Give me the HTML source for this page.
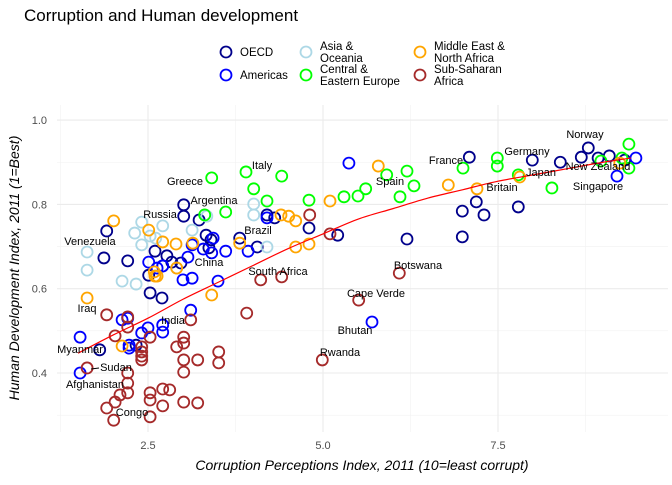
<!DOCTYPE html>
<html><head><meta charset="utf-8"><style>
body{margin:0;background:#fff;font-family:"Liberation Sans",sans-serif;}
svg text{font-family:"Liberation Sans",sans-serif;}
</style></head><body>
<svg id="chart" width="672" height="480" xmlns="http://www.w3.org/2000/svg">
<text x="24" y="21" font-size="17" fill="#000">Corruption and Human development</text>
<g id="legend"></g>
<g id="grid"></g>
<g id="points"></g>
<g id="labels"></g>
<text x="362" y="470" font-size="14" font-style="italic" text-anchor="middle">Corruption Perceptions Index, 2011 (10=least corrupt)</text>
<text transform="translate(19,268) rotate(-90)" font-size="14" font-style="italic" text-anchor="middle">Human Development Index, 2011 (1=Best)</text>
</svg>
<script>
const regions=["OECD","Americas","Asia & Oceania","Central & Eastern Europe","Middle East & North Africa","Sub-Saharan Africa"];
const regionColors=["#00008B","#0000FF","#ADD8E6","#00FF00","#FFA500","#A52A2A"];
const oecdX=[1.91,3.01,3.01,3.23,3.33,3.4,3.37,3.81,4.06,4.31,4.2,4.8,5.21,6.2,6.99,6.99,7.19,7.3,7.09,7.79,7.99,8.39,8.69,8.79,8.93,9.09,9.31,1.87,2.21,2.51,2.53,2.7,2.71,2.84,2.6,2.77,2.33,1.81,2.97];
const oecdY=[.737,.799,.772,.763,.727,.716,.697,.72,.699,.768,.775,.744,.727,.718,.723,.784,.806,.775,.912,.794,.905,.9,.912,.934,.91,.915,.905,.673,.666,.632,.59,.578,.654,.663,.689,.678,.466,.455,.661];
const amerX=[1.53,1.53,2.13,2.21,2.23,2.23,2.41,2.5,2.71,2.71,3.11,2.51,2.63,2.71,3.0,3.13,3.5,3.13,3.29,3.41,3.61,3.93,4.2,5.37,5.7,9.2,9.47,3.43,3.07];
const amerY=[.4,.485,.526,.53,.466,.459,.495,.507,.514,.497,.549,.663,.649,.654,.621,.625,.618,.704,.694,.685,.689,.689,.768,.898,.521,.867,.91,.72,.675];
const asiaX=[1.63,1.63,2.13,2.33,2.41,2.71,2.31,2.41,3.13,4.01,4.01,4.2,3.34,2.61,2.91,2.53];
const asiaY=[.687,.644,.618,.611,.758,.749,.732,.704,.739,.801,.775,.699,.772,.72,.649,.725];
const ceeX=[3.41,3.9,4.41,4.01,4.2,4.8,3.61,3.31,5.3,5.5,5.61,5.91,6.1,6.3,6.2,7.0,7.49,7.49,7.79,8.27,8.97,9.27,9.37,9.37];
const ceeY=[.863,.877,.867,.837,.808,.81,.782,.775,.818,.82,.837,.87,.818,.844,.879,.886,.91,.891,.87,.839,.903,.91,.886,.943];
const menaX=[1.63,2.01,2.51,2.59,2.9,2.6,3.14,2.91,2.63,3.41,2.13,3.81,4.51,4.61,4.8,4.61,5.1,4.4,5.79,6.79,7.2,7.81,2.71,9.24];
const menaY=[.578,.761,.739,.64,.706,.63,.708,.649,.63,.585,.464,.708,.772,.699,.706,.761,.808,.775,.891,.846,.837,.865,.711,.898];
const ssaX=[1.91,2.21,2.21,2.03,2.53,2.41,2.41,2.41,2.41,3.01,3.01,2.91,3.21,3.01,3.01,3.51,3.51,3.11,3.91,2.21,2.21,2.21,2.1,2.03,1.91,2.01,2.53,2.53,2.71,2.81,2.71,3.01,3.21,2.53,1.63,4.11,4.41,5.1,4.81,5.51,6.09,4.99];
const ssaY=[.538,.533,.509,.488,.485,.462,.45,.44,.431,.485,.471,.462,.431,.431,.402,.45,.424,.526,.542,.4,.376,.353,.348,.331,.317,.288,.353,.336,.362,.36,.322,.331,.329,.296,.412,.621,.628,.73,.775,.573,.637,.431];
const trendX=[1.5,2,2.5,3,3.5,4,4.5,5,5.5,6,6.5,7,7.5,8,8.5,9,9.4];
const trendY=[.447,.49,.53,.575,.615,.655,.695,.73,.765,.79,.815,.835,.855,.87,.885,.9,.91];
const xTicks=[2.5,5.0,7.5];
const xTickLabels=["2.5","5.0","7.5"];
const yTicks=[0.4,0.6,0.8,1.0];
const yTickLabels=["0.4","0.6","0.8","1.0"];
const labelNames=["Norway","Germany","France","Japan","New Zealand","Singapore","Britain","Spain","Italy","Greece","Argentina","Russia","Brazil","Venezuela","China","South Africa","Botswana","Cape Verde","Iraq","India","Bhutan","Rwanda","Myanmar","Sudan","Afghanistan","Congo"];
const labelPos=[[585,138],[527,155],[446,164],[541,176],[598,170],[598,190],[502,191],[390,185],[262,169],[185,185],[214,204],[160,218],[258,234],[90,245],[209,266],[278,275],[418,269],[376,297],[87,312],[173,324],[355,334],[340,356],[80,353],[116,371],[95,388],[132,416]];

const NS="http://www.w3.org/2000/svg";
const L=57,R=668,T=105,B=432;
const xs=v=>148+(v-2.5)*70;
const ys=v=>373-(v-0.4)*421.5;
function mk(tag,attrs,parent){const e=document.createElementNS(NS,tag);for(const k in attrs)e.setAttribute(k,attrs[k]);parent.appendChild(e);return e;}
const grid=document.getElementById('grid');
[0.3,0.5,0.7,0.9].forEach(v=>{const l=mk('line',{x1:L,x2:R,y1:ys(v),y2:ys(v),stroke:'#f2f2f2','stroke-width':0.6},grid);

});
[1.25,3.75,6.25,8.75].forEach(v=>{const l=mk('line',{x1:xs(v),x2:xs(v),y1:T,y2:B,stroke:'#f2f2f2','stroke-width':0.6},grid);

});
yTicks.forEach((v,i)=>{const l=mk('line',{x1:L,x2:R,y1:ys(v),y2:ys(v),stroke:'#ebebeb','stroke-width':1.1},grid);


const t=mk('text',{x:47,y:ys(v)+4,'font-size':11,fill:'#4d4d4d','text-anchor':'end'},grid);t.textContent=yTickLabels[i];

});
xTicks.forEach((v,i)=>{const l=mk('line',{x1:xs(v),x2:xs(v),y1:T,y2:B,stroke:'#ebebeb','stroke-width':1.1},grid);


const t=mk('text',{x:xs(v),y:449,'font-size':11,fill:'#4d4d4d','text-anchor':'middle'},grid);t.textContent=xTickLabels[i];

});
const pts=document.getElementById('points');
const series=[[oecdX,oecdY],[amerX,amerY],[asiaX,asiaY],[ceeX,ceeY],[menaX,menaY],[ssaX,ssaY]];
series.forEach((s,si)=>{s[0].forEach((x,i)=>{const c=mk('circle',{cx:xs(x),cy:ys(s[1][i]),r:5.5,fill:'none',stroke:regionColors[si],'stroke-width':1.8},pts);

});});
const P=trendX.map((x,i)=>[xs(x),ys(trendY[i])]);
let d='M'+P[0][0]+','+P[0][1];
for(let i=0;i<P.length-1;i++){const p0=P[Math.max(0,i-1)],p1=P[i],p2=P[i+1],p3=P[Math.min(P.length-1,i+2)];
d+=' C'+(p1[0]+(p2[0]-p0[0])/6)+','+(p1[1]+(p2[1]-p0[1])/6)+' '+(p2[0]-(p3[0]-p1[0])/6)+','+(p2[1]-(p3[1]-p1[1])/6)+' '+p2[0]+','+p2[1];}
const tl=mk('path',{d:d,fill:'none',stroke:'#FF0000','stroke-width':1.2},pts);


const lab=document.getElementById('labels');
labelNames.forEach((n,i)=>{const t=mk('text',{x:labelPos[i][0],y:labelPos[i][1],'font-size':11,fill:'#000','text-anchor':'middle'},lab);t.textContent=n;

});
const ll=mk('line',{x1:91,y1:369,x2:99,y2:368,stroke:'#000','stroke-width':1},lab);


const leg=document.getElementById('legend');
const legItems=[[226,52,["OECD"]],[226,75,["Americas"]],[306,52,["Asia &","Oceania"]],[306,75,["Central &","Eastern Europe"]],[420,52,["Middle East &","North Africa"]],[420,75,["Sub-Saharan","Africa"]]];
legItems.forEach((it,i)=>{const g=mk('g',{},leg);


mk('circle',{cx:it[0],cy:it[1],r:5.5,fill:'none',stroke:regionColors[i],'stroke-width':1.8},g);
it[2].forEach((line,j)=>{const t=mk('text',{x:it[0]+14,y:it[1]+4+(it[2].length>1?(j-0.5)*12:0),'font-size':11.5,fill:'#000'},g);t.textContent=line;});});
</script>
</body></html>
